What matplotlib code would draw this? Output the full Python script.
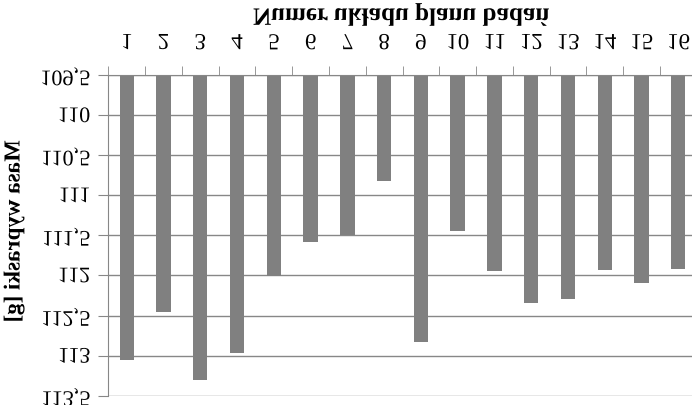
import numpy as np
import matplotlib
matplotlib.use("Agg")
import matplotlib.pyplot as plt
import matplotlib.patheffects as pe
from matplotlib.transforms import Affine2D
from matplotlib.ticker import FixedLocator, FuncFormatter

# chart data (picture is shown mirrored top-to-bottom)
uklad = list(range(1, 17))
masa = [113.05, 112.46, 113.30, 112.97, 112.01, 111.58, 111.50, 110.82,
        112.83, 111.45, 111.94, 112.34, 112.30, 111.93, 112.10, 111.92]
y_ticks = [109.5, 110.0, 110.5, 111.0, 111.5, 112.0, 112.5, 113.0, 113.5]
y_base = 109.5
title = "Numer układu planu badań"
ylabel = "Masa wypraski [g]"


class Flip(pe.AbstractPathEffect):
    """Mirror a text's glyphs top-to-bottom about their own centre."""
    def draw_path(self, renderer, gc, tpath, affine, rgbFace=None):
        box = tpath.get_extents(affine)
        cy = (box.y0 + box.y1) / 2
        m = affine + Affine2D().translate(0, -cy).scale(1, -1).translate(0, cy)
        renderer.draw_path(gc, tpath, m, rgbFace)


W, H = 692, 406
serif = "Liberation Serif"
grey = "#878787"

fig = plt.figure(figsize=(W / 100, H / 100), dpi=100)
ax = fig.add_axes([108.3 / W, 1 - 396.7 / H, (696.7 - 108.3) / W, (396.7 - 76) / H])

ax.bar(uklad, [m - y_base for m in masa], bottom=y_base, width=0.39,
       color="#808080", zorder=2)
ax.set_xlim(0.5, 16.5)
ax.set_ylim(113.5, 109.5)

ax.yaxis.set_major_locator(FixedLocator(y_ticks))
ax.yaxis.set_major_formatter(FuncFormatter(lambda v, _: f"{v:g}".replace(".", ",")))
ax.grid(axis="y", color=grey, lw=1, zorder=0)
ax.set_axisbelow(True)

ax.xaxis.tick_top()
ax.set_xticks(uklad)
ax.set_xticks(np.arange(0.5, 17, 1), minor=True)
ax.tick_params(axis="x", which="major", length=0, pad=15, labelsize=16.5)
ax.tick_params(axis="x", which="minor", length=6.5, color=grey, top=True)
ax.tick_params(axis="y", length=7, color=grey, pad=6, labelsize=16)

for s in ("right", "bottom"):
    ax.spines[s].set_visible(False)
for s in ("left", "top"):
    ax.spines[s].set_color(grey)

for t in ax.get_xticklabels() + ax.get_yticklabels():
    t.set_family(serif)
    t.set_path_effects([Flip()])

fig.text(401 / W, 1 - 15 / H, title, ha="center", va="center", fontsize=18,
         fontweight="bold", family=serif, path_effects=[Flip()])
fig.text(14 / W, 1 - 231 / H, ylabel, ha="center", va="center", rotation=90,
         fontsize=16.5, fontweight="bold", family=serif, path_effects=[Flip()])

fig.savefig("out.png", dpi=100)
